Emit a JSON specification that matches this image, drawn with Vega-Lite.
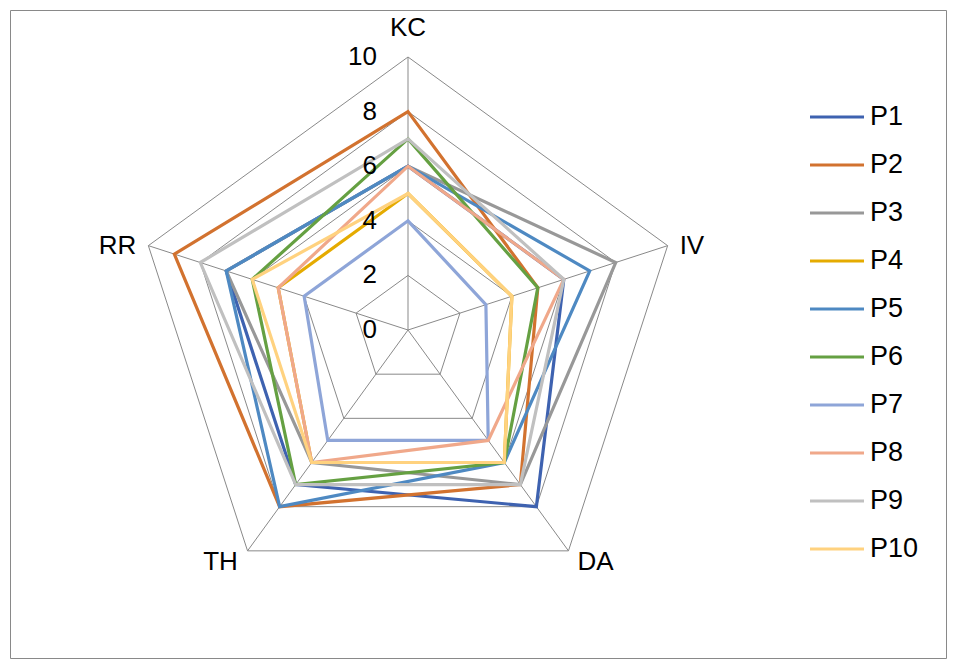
{
  "$schema": "https://vega.github.io/schema/vega-lite/v6.json",
  "width": 936,
  "height": 648,
  "padding": 10,
  "autosize": {"type": "none"},
  "background": "white",
  "config": {
    "view": {"stroke": "#898989", "strokeWidth": 1},
    "font": "Liberation Sans"
  },
  "datasets": {
    "scores": [
      {"p": "P1", "axis": "KC", "v": 6}, {"p": "P1", "axis": "IV", "v": 6}, {"p": "P1", "axis": "DA", "v": 8}, {"p": "P1", "axis": "TH", "v": 7}, {"p": "P1", "axis": "RR", "v": 7},
      {"p": "P2", "axis": "KC", "v": 8}, {"p": "P2", "axis": "IV", "v": 5}, {"p": "P2", "axis": "DA", "v": 7}, {"p": "P2", "axis": "TH", "v": 8}, {"p": "P2", "axis": "RR", "v": 9},
      {"p": "P3", "axis": "KC", "v": 6}, {"p": "P3", "axis": "IV", "v": 8}, {"p": "P3", "axis": "DA", "v": 7}, {"p": "P3", "axis": "TH", "v": 6}, {"p": "P3", "axis": "RR", "v": 7},
      {"p": "P4", "axis": "KC", "v": 5}, {"p": "P4", "axis": "IV", "v": 4}, {"p": "P4", "axis": "DA", "v": 6}, {"p": "P4", "axis": "TH", "v": 6}, {"p": "P4", "axis": "RR", "v": 5},
      {"p": "P5", "axis": "KC", "v": 6}, {"p": "P5", "axis": "IV", "v": 7}, {"p": "P5", "axis": "DA", "v": 6}, {"p": "P5", "axis": "TH", "v": 8}, {"p": "P5", "axis": "RR", "v": 7},
      {"p": "P6", "axis": "KC", "v": 7}, {"p": "P6", "axis": "IV", "v": 5}, {"p": "P6", "axis": "DA", "v": 6}, {"p": "P6", "axis": "TH", "v": 7}, {"p": "P6", "axis": "RR", "v": 6},
      {"p": "P7", "axis": "KC", "v": 4}, {"p": "P7", "axis": "IV", "v": 3}, {"p": "P7", "axis": "DA", "v": 5}, {"p": "P7", "axis": "TH", "v": 5}, {"p": "P7", "axis": "RR", "v": 4},
      {"p": "P8", "axis": "KC", "v": 6}, {"p": "P8", "axis": "IV", "v": 6}, {"p": "P8", "axis": "DA", "v": 5}, {"p": "P8", "axis": "TH", "v": 6}, {"p": "P8", "axis": "RR", "v": 5},
      {"p": "P9", "axis": "KC", "v": 7}, {"p": "P9", "axis": "IV", "v": 6}, {"p": "P9", "axis": "DA", "v": 7}, {"p": "P9", "axis": "TH", "v": 7}, {"p": "P9", "axis": "RR", "v": 8},
      {"p": "P10", "axis": "KC", "v": 5}, {"p": "P10", "axis": "IV", "v": 4}, {"p": "P10", "axis": "DA", "v": 6}, {"p": "P10", "axis": "TH", "v": 6}, {"p": "P10", "axis": "RR", "v": 6}
    ],
    "grid": [
      {"level": 2, "axis": "KC"}, {"level": 2, "axis": "IV"}, {"level": 2, "axis": "DA"}, {"level": 2, "axis": "TH"}, {"level": 2, "axis": "RR"},
      {"level": 4, "axis": "KC"}, {"level": 4, "axis": "IV"}, {"level": 4, "axis": "DA"}, {"level": 4, "axis": "TH"}, {"level": 4, "axis": "RR"},
      {"level": 6, "axis": "KC"}, {"level": 6, "axis": "IV"}, {"level": 6, "axis": "DA"}, {"level": 6, "axis": "TH"}, {"level": 6, "axis": "RR"},
      {"level": 8, "axis": "KC"}, {"level": 8, "axis": "IV"}, {"level": 8, "axis": "DA"}, {"level": 8, "axis": "TH"}, {"level": 8, "axis": "RR"},
      {"level": 10, "axis": "KC"}, {"level": 10, "axis": "IV"}, {"level": 10, "axis": "DA"}, {"level": 10, "axis": "TH"}, {"level": 10, "axis": "RR"}
    ],
    "ticks": [{"level": 0}, {"level": 2}, {"level": 4}, {"level": 6}, {"level": 8}, {"level": 10}]
  },
  "layer": [
    {
      "data": {"name": "grid"},
      "transform": [
        {"calculate": "indexof(['KC','IV','DA','TH','RR'], datum.axis)", "as": "k"},
        {"calculate": "datum.level * sin(datum.k * 2 * PI / 5)", "as": "x"},
        {"calculate": "datum.level * cos(datum.k * 2 * PI / 5)", "as": "y"}
      ],
      "mark": {"type": "line", "interpolate": "linear-closed", "stroke": "#898989", "strokeWidth": 1},
      "encoding": {
        "x": {"field": "x", "type": "quantitative", "scale": {"domain": [-14.579, 19.707], "nice": false, "zero": false}, "axis": null},
        "y": {"field": "y", "type": "quantitative", "scale": {"domain": [-12.015, 11.722], "nice": false, "zero": false}, "axis": null},
        "detail": {"field": "level", "type": "nominal"},
        "order": {"field": "k", "type": "quantitative"}
      }
    },
    {
      "data": {"name": "grid"},
      "transform": [
        {"filter": "datum.level == 10"},
        {"calculate": "indexof(['KC','IV','DA','TH','RR'], datum.axis)", "as": "k"},
        {"calculate": "datum.level * sin(datum.k * 2 * PI / 5)", "as": "x"},
        {"calculate": "datum.level * cos(datum.k * 2 * PI / 5)", "as": "y"}
      ],
      "mark": {"type": "rule", "stroke": "#898989", "strokeWidth": 1},
      "encoding": {
        "x": {"field": "x", "type": "quantitative", "scale": {"domain": [-14.579, 19.707], "nice": false, "zero": false}, "axis": null},
        "y": {"field": "y", "type": "quantitative", "scale": {"domain": [-12.015, 11.722], "nice": false, "zero": false}, "axis": null},
        "x2": {"datum": 0},
        "y2": {"datum": 0}
      }
    },
    {
      "data": {"name": "scores"},
      "transform": [
        {"calculate": "indexof(['KC','IV','DA','TH','RR'], datum.axis)", "as": "k"},
        {"calculate": "datum.v * sin(datum.k * 2 * PI / 5)", "as": "x"},
        {"calculate": "datum.v * cos(datum.k * 2 * PI / 5)", "as": "y"}
      ],
      "mark": {"type": "line", "interpolate": "linear-closed", "strokeWidth": 3.2, "strokeJoin": "miter"},
      "encoding": {
        "x": {"field": "x", "type": "quantitative", "scale": {"domain": [-14.579, 19.707], "nice": false, "zero": false}, "axis": null},
        "y": {"field": "y", "type": "quantitative", "scale": {"domain": [-12.015, 11.722], "nice": false, "zero": false}, "axis": null},
        "order": {"field": "k", "type": "quantitative"},
        "color": {
          "field": "p", "type": "nominal",
          "scale": {
            "domain": ["P1", "P2", "P3", "P4", "P5", "P6", "P7", "P8", "P9", "P10"],
            "range": ["#3E62B0", "#D2722F", "#989898", "#E5AB00", "#4E89C2", "#65A042", "#8EA5D8", "#F0A88A", "#C0C0C0", "#FFD27F"]
          },
          "legend": {
            "title": null,
            "orient": "none",
            "legendX": 798,
            "legendY": 78,
            "symbolType": "stroke",
            "symbolSize": 2916,
            "symbolStrokeWidth": 3.2,
            "labelFontSize": 27,
            "labelFont": "Liberation Sans",
            "labelColor": "#000000",
            "labelOffset": 4,
            "rowPadding": 6
          }
        }
      }
    },
    {
      "data": {"name": "ticks"},
      "mark": {"type": "text", "align": "right", "baseline": "middle", "dx": -31, "fontSize": 26, "font": "Liberation Sans", "color": "#000000"},
      "encoding": {
        "x": {"datum": 0, "type": "quantitative", "scale": {"domain": [-14.579, 19.707], "nice": false, "zero": false}, "axis": null},
        "y": {"field": "level", "type": "quantitative", "scale": {"domain": [-12.015, 11.722], "nice": false, "zero": false}, "axis": null},
        "text": {"field": "level", "type": "nominal"}
      }
    },
    {
      "data": {"name": "grid"},
      "transform": [
        {"filter": "datum.level == 10 && datum.axis == 'KC'"},
        {"calculate": "0", "as": "x"},
        {"calculate": "10", "as": "y"}
      ],
      "mark": {"type": "text", "align": "center", "baseline": "middle", "dy": -29, "fontSize": 26, "font": "Liberation Sans", "color": "#000000"},
      "encoding": {
        "x": {"field": "x", "type": "quantitative", "scale": {"domain": [-14.579, 19.707], "nice": false, "zero": false}, "axis": null},
        "y": {"field": "y", "type": "quantitative", "scale": {"domain": [-12.015, 11.722], "nice": false, "zero": false}, "axis": null},
        "text": {"field": "axis", "type": "nominal"}
      }
    },
    {
      "data": {"name": "grid"},
      "transform": [
        {"filter": "datum.level == 10 && datum.axis == 'IV'"},
        {"calculate": "10 * sin(2 * PI / 5)", "as": "x"},
        {"calculate": "10 * cos(2 * PI / 5)", "as": "y"}
      ],
      "mark": {"type": "text", "align": "left", "baseline": "middle", "dx": 12, "fontSize": 26, "font": "Liberation Sans", "color": "#000000"},
      "encoding": {
        "x": {"field": "x", "type": "quantitative", "scale": {"domain": [-14.579, 19.707], "nice": false, "zero": false}, "axis": null},
        "y": {"field": "y", "type": "quantitative", "scale": {"domain": [-12.015, 11.722], "nice": false, "zero": false}, "axis": null},
        "text": {"field": "axis", "type": "nominal"}
      }
    },
    {
      "data": {"name": "grid"},
      "transform": [
        {"filter": "datum.level == 10 && datum.axis == 'DA'"},
        {"calculate": "10 * sin(4 * PI / 5)", "as": "x"},
        {"calculate": "10 * cos(4 * PI / 5)", "as": "y"}
      ],
      "mark": {"type": "text", "align": "center", "baseline": "middle", "dx": 27, "dy": 11, "fontSize": 26, "font": "Liberation Sans", "color": "#000000"},
      "encoding": {
        "x": {"field": "x", "type": "quantitative", "scale": {"domain": [-14.579, 19.707], "nice": false, "zero": false}, "axis": null},
        "y": {"field": "y", "type": "quantitative", "scale": {"domain": [-12.015, 11.722], "nice": false, "zero": false}, "axis": null},
        "text": {"field": "axis", "type": "nominal"}
      }
    },
    {
      "data": {"name": "grid"},
      "transform": [
        {"filter": "datum.level == 10 && datum.axis == 'TH'"},
        {"calculate": "10 * sin(6 * PI / 5)", "as": "x"},
        {"calculate": "10 * cos(6 * PI / 5)", "as": "y"}
      ],
      "mark": {"type": "text", "align": "center", "baseline": "middle", "dx": -27, "dy": 11, "fontSize": 26, "font": "Liberation Sans", "color": "#000000"},
      "encoding": {
        "x": {"field": "x", "type": "quantitative", "scale": {"domain": [-14.579, 19.707], "nice": false, "zero": false}, "axis": null},
        "y": {"field": "y", "type": "quantitative", "scale": {"domain": [-12.015, 11.722], "nice": false, "zero": false}, "axis": null},
        "text": {"field": "axis", "type": "nominal"}
      }
    },
    {
      "data": {"name": "grid"},
      "transform": [
        {"filter": "datum.level == 10 && datum.axis == 'RR'"},
        {"calculate": "10 * sin(8 * PI / 5)", "as": "x"},
        {"calculate": "10 * cos(8 * PI / 5)", "as": "y"}
      ],
      "mark": {"type": "text", "align": "right", "baseline": "middle", "dx": -12, "fontSize": 26, "font": "Liberation Sans", "color": "#000000"},
      "encoding": {
        "x": {"field": "x", "type": "quantitative", "scale": {"domain": [-14.579, 19.707], "nice": false, "zero": false}, "axis": null},
        "y": {"field": "y", "type": "quantitative", "scale": {"domain": [-12.015, 11.722], "nice": false, "zero": false}, "axis": null},
        "text": {"field": "axis", "type": "nominal"}
      }
    }
  ]
}
